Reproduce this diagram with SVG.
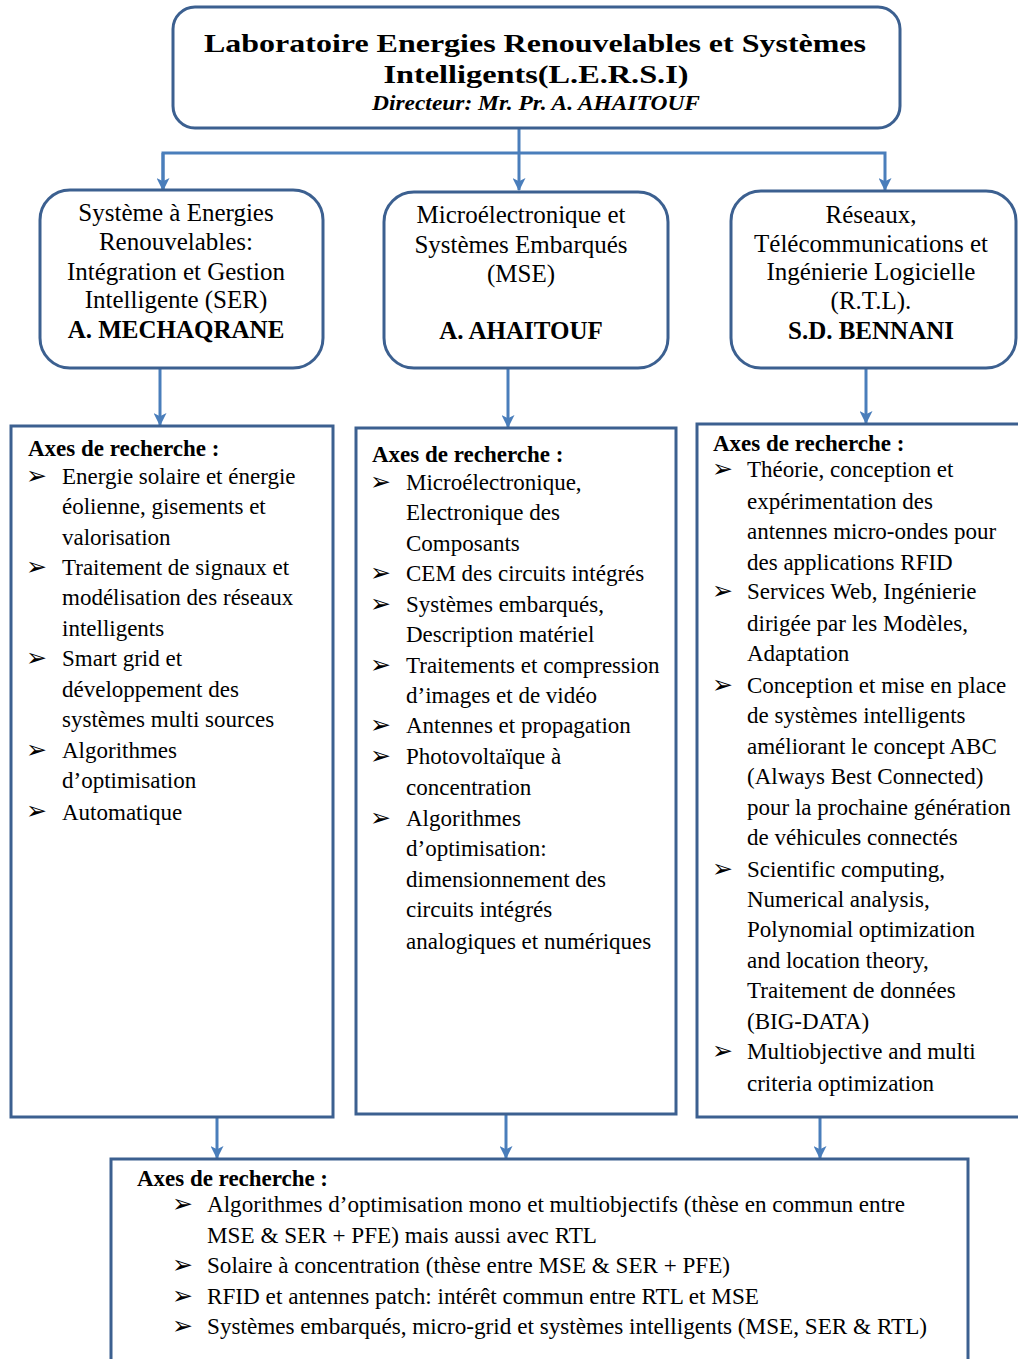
<svg xmlns="http://www.w3.org/2000/svg" width="1018" height="1359" viewBox="0 0 1018 1359">
<defs>
<marker id="ah" viewBox="0 0 12 12" refX="11" refY="6" markerWidth="13" markerHeight="13" markerUnits="userSpaceOnUse" orient="auto">
<path d="M0,0 L12,6 L0,12 L3,6 z" fill="#4a7ebb"/>
</marker>
<style>
.box{fill:#fff;stroke:#3c6090;stroke-width:3}
.con{fill:none;stroke:#4a7ebb;stroke-width:3}
.t{font-family:"Liberation Serif","Times New Roman",serif;fill:#000}
.c{text-anchor:middle;font-size:25px}
.b{font-weight:bold}
.li{font-size:23px}
.h{font-size:23px;font-weight:bold}
.bu{font-family:"DejaVu Sans",sans-serif;font-size:25px;fill:#000}
.bl{font-size:23px}
</style>
</defs>
<rect width="1018" height="1359" fill="#fff"/>
<g id="connectors">
<path class="con" d="M519,128 V190" marker-end="url(#ah)"/>
<path class="con" d="M163,190 V153 H885 V190" marker-end="url(#ah)"/>
<path class="con" d="M163,153 V190" marker-end="url(#ah)"/>
<path class="con" d="M160,368 V425" marker-end="url(#ah)"/>
<path class="con" d="M508,368 V427" marker-end="url(#ah)"/>
<path class="con" d="M866,368 V423" marker-end="url(#ah)"/>
<path class="con" d="M217,1117 V1158" marker-end="url(#ah)"/>
<path class="con" d="M506,1114 V1158" marker-end="url(#ah)"/>
<path class="con" d="M820,1117 V1158" marker-end="url(#ah)"/>
</g>
<g id="lab">
<rect class="box" x="173" y="7" width="727" height="121" rx="22"/>
<text class="t b" x="535" y="52" text-anchor="middle" font-size="26" textLength="662" lengthAdjust="spacingAndGlyphs">Laboratoire Energies Renouvelables et Systèmes</text>
<text class="t b" x="536" y="83" text-anchor="middle" font-size="26" textLength="305" lengthAdjust="spacingAndGlyphs">Intelligents(L.E.R.S.I)</text>
<text class="t b" x="536" y="110" text-anchor="middle" font-size="21" font-style="italic" textLength="328" lengthAdjust="spacingAndGlyphs">Directeur: Mr. Pr. A. AHAITOUF</text>
</g>
<g id="ser">
<rect class="box" x="40" y="190" width="283" height="178" rx="30"/>
<text class="t c" x="176" y="221">Système à Energies</text>
<text class="t c" x="176" y="250">Renouvelables:</text>
<text class="t c" x="176" y="280">Intégration et Gestion</text>
<text class="t c" x="176" y="308">Intelligente (SER)</text>
<text class="t c b" x="176" y="338">A. MECHAQRANE</text>
</g>
<g id="mse">
<rect class="box" x="384" y="192" width="284" height="176" rx="30"/>
<text class="t c" x="521" y="223">Microélectronique et</text>
<text class="t c" x="521" y="253">Systèmes Embarqués</text>
<text class="t c" x="521" y="282">(MSE)</text>
<text class="t c b" x="521" y="339">A. AHAITOUF</text>
</g>
<g id="rtl">
<rect class="box" x="731" y="191" width="285" height="177" rx="30"/>
<text class="t c" x="871" y="223">Réseaux,</text>
<text class="t c" x="871" y="252">Télécommunications et</text>
<text class="t c" x="871" y="280">Ingénierie Logicielle</text>
<text class="t c" x="871" y="309">(R.T.L).</text>
<text class="t c b" x="871" y="339">S.D. BENNANI</text>
</g>
<g id="axes-ser">
<rect class="box" x="11" y="426" width="322" height="691"/>
<text class="t h" x="28" y="456">Axes de recherche :</text>
<g class="bu"><text x="26" y="484">➢</text><text x="26" y="575">➢</text><text x="26" y="666">➢</text><text x="26" y="758">➢</text><text x="26" y="819">➢</text></g>
<g class="t li">
<text x="62" y="484">Energie solaire et énergie</text>
<text x="62" y="514">éolienne, gisements et</text>
<text x="62" y="545">valorisation</text>
<text x="62" y="575">Traitement de signaux et</text>
<text x="62" y="605">modélisation des réseaux</text>
<text x="62" y="636">intelligents</text>
<text x="62" y="666">Smart grid et</text>
<text x="62" y="697">développement des</text>
<text x="62" y="727">systèmes multi sources</text>
<text x="62" y="758">Algorithmes</text>
<text x="62" y="788">d’optimisation</text>
<text x="62" y="820">Automatique</text>
</g>
</g>
<g id="axes-mse">
<rect class="box" x="356" y="428" width="320" height="686"/>
<text class="t h" x="372" y="462">Axes de recherche :</text>
<g class="bu"><text x="370" y="490">➢</text><text x="370" y="581">➢</text><text x="370" y="612">➢</text><text x="370" y="673">➢</text><text x="370" y="733">➢</text><text x="370" y="764">➢</text><text x="370" y="826">➢</text></g>
<g class="t li">
<text x="406" y="490">Microélectronique,</text>
<text x="406" y="520">Electronique des</text>
<text x="406" y="551">Composants</text>
<text x="406" y="581">CEM des circuits intégrés</text>
<text x="406" y="612">Systèmes embarqués,</text>
<text x="406" y="642">Description matériel</text>
<text x="406" y="673">Traitements et compression</text>
<text x="406" y="703">d’images et de vidéo</text>
<text x="406" y="733">Antennes et propagation</text>
<text x="406" y="764">Photovoltaïque à</text>
<text x="406" y="795">concentration</text>
<text x="406" y="826">Algorithmes</text>
<text x="406" y="856">d’optimisation:</text>
<text x="406" y="887">dimensionnement des</text>
<text x="406" y="917">circuits intégrés</text>
<text x="406" y="949">analogiques et numériques</text>
</g>
</g>
<g id="axes-rtl">
<rect class="box" x="697" y="424" width="340" height="693"/>
<text class="t h" x="713" y="451">Axes de recherche :</text>
<g class="bu"><text x="712" y="477">➢</text><text x="712" y="599">➢</text><text x="712" y="693">➢</text><text x="712" y="877">➢</text><text x="712" y="1059">➢</text></g>
<g class="t li">
<text x="747" y="477">Théorie, conception et</text>
<text x="747" y="509">expérimentation des</text>
<text x="747" y="539">antennes micro-ondes pour</text>
<text x="747" y="570">des applications RFID</text>
<text x="747" y="599">Services Web, Ingénierie</text>
<text x="747" y="631">dirigée par les Modèles,</text>
<text x="747" y="661">Adaptation</text>
<text x="747" y="693">Conception et mise en place</text>
<text x="747" y="723">de systèmes intelligents</text>
<text x="747" y="754">améliorant le concept ABC</text>
<text x="747" y="784">(Always Best Connected)</text>
<text x="747" y="815">pour la prochaine génération</text>
<text x="747" y="845">de véhicules connectés</text>
<text x="747" y="877">Scientific computing,</text>
<text x="747" y="907">Numerical analysis,</text>
<text x="747" y="937">Polynomial optimization</text>
<text x="747" y="968">and location theory,</text>
<text x="747" y="998">Traitement de données</text>
<text x="747" y="1029">(BIG-DATA)</text>
<text x="747" y="1059">Multiobjective and multi</text>
<text x="747" y="1091">criteria optimization</text>
</g>
</g>
<g id="axes-commun">
<rect class="box" x="111" y="1159" width="857" height="230"/>
<text class="t h" x="137" y="1186" font-size="22" textLength="191" lengthAdjust="spacingAndGlyphs">Axes de recherche :</text>
<g class="bu"><text x="172" y="1212">➢</text><text x="172" y="1273">➢</text><text x="172" y="1304">➢</text><text x="172" y="1334">➢</text></g>
<g class="t bl">
<text x="207" y="1212" textLength="698" lengthAdjust="spacingAndGlyphs">Algorithmes d’optimisation mono et multiobjectifs (thèse en commun entre</text>
<text x="207" y="1243" textLength="390" lengthAdjust="spacingAndGlyphs">MSE &amp; SER + PFE) mais aussi avec RTL</text>
<text x="207" y="1273" textLength="523" lengthAdjust="spacingAndGlyphs">Solaire à concentration (thèse entre MSE &amp; SER + PFE)</text>
<text x="207" y="1304" textLength="552" lengthAdjust="spacingAndGlyphs">RFID et antennes patch: intérêt commun entre RTL et MSE</text>
<text x="207" y="1334" textLength="720" lengthAdjust="spacingAndGlyphs">Systèmes embarqués, micro-grid et systèmes intelligents (MSE, SER &amp; RTL)</text>
</g>
</g>
</svg>
